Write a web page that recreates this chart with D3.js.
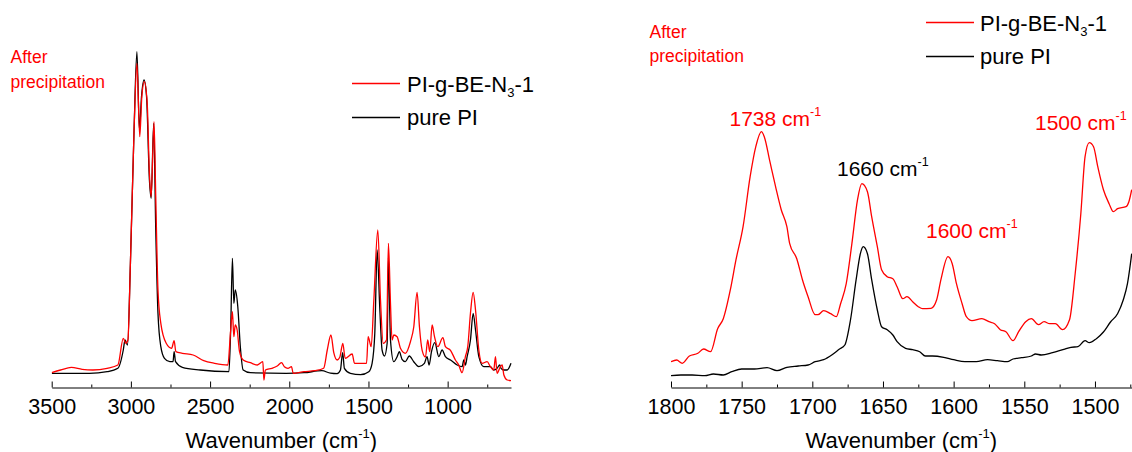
<!DOCTYPE html>
<html><head><meta charset="utf-8">
<script src="https://cdn.jsdelivr.net/npm/d3@7"></script>
<style>
html,body{margin:0;padding:0;background:#fff;}
svg{display:block;font-family:"Liberation Sans",Arial,Helvetica,sans-serif;}
</style></head>
<body>
<svg id="chart" width="1132" height="452"></svg>
<script>
// ---------- DATA (wavenumber in cm-1, intensity in arbitrary units) ----------
const leftRedWn = [3500,3444,3376,3308,3240,3150,3082,3048,3032,3019,3003,2980,2962,2944,2931,2915,2897,2883,2872,2854,2843,2829,2811,2777,2743,2727,2716,2675,2607,2540,2472,2388,2370,2359,2350,2341,2329,2314,2291,2246,2201,2167,2160,2151,2110,2076,2049,2031,2008,1986,1975,1907,1839,1783,1760,1737,1719,1698,1681,1662,1647,1603,1588,1550,1512,1502,1483,1466,1441,1424,1407,1386,1374,1361,1351,1340,1319,1298,1267,1235,1214,1193,1178,1161,1140,1126,1113,1098,1083,1062,1030,1014,982,951,930,909,888,873,856,839,824,803,782,751,730,709,698,688,667,656,645,624,600];
const leftRedVal = [15,17.7,20.4,18.4,17.7,19.4,22.7,49.4,44.4,47.7,124.4,257.7,324.4,251,291,306,284.4,214.4,191,266,191,97.7,64.4,44.4,39.4,47,36,34.4,32.7,27,24.4,22.7,57.7,76,51,62.7,57.7,36,27.7,25,22.7,26,7.7,17.7,19.4,21.7,25,21,19.4,21,14.4,16,17,19.4,37.7,52.7,35,27.7,30.4,44.4,29.4,33.7,24.4,24.4,24.4,51,41,87.7,157.7,87.7,44.4,47.7,144.4,84.4,47.7,52.7,51,39.4,34.4,46,60.7,95.4,60.7,37.4,30.7,47.7,36,62.7,51,41,50,41,37.4,27.7,22.7,15,31,41,74.4,95.4,77.7,37.4,24.4,26,21,17.7,31,14.4,21,22.7,12.7,7.7,7];

const leftBlackWn = [3500,3376,3263,3150,3082,3048,3037,3021,3003,2980,2962,2946,2933,2917,2901,2883,2872,2856,2843,2829,2811,2788,2754,2734,2727,2718,2675,2562,2381,2370,2359,2350,2341,2325,2309,2291,2246,2020,1907,1794,1740,1698,1677,1663,1652,1614,1550,1498,1477,1460,1445,1428,1414,1399,1382,1374,1361,1340,1319,1305,1288,1267,1242,1214,1182,1147,1130,1117,1102,1081,1056,1035,1014,982,940,909,898,888,877,856,839,824,803,772,730,709,688,671,663,645,624,600];
const leftBlackVal = [14.4,14.4,14.4,16,19.4,37.7,47.7,42.7,124.4,257.7,336,257.7,291,307.7,291,207.7,189.4,264.4,157.7,74.4,41,29.4,26,26,36,26,20.4,17.7,16,57.7,129.4,84.4,97.7,81,41,17.7,15,14.4,15,17,14.5,14,17.7,35,19.4,14.4,13,16,24.4,54.4,137.7,77.7,37.7,31.7,44.4,130,47.7,26,31,36,28.4,26,31.7,26,21,24.4,31,22.7,36,45,31,37.7,31,27.7,22.7,21,27.7,22.7,31,47.7,74.4,57.7,31,21,21,17.7,19.4,22.7,19.4,17.7,17.7,24.4];

const rightRedWn = [1800,1796,1792,1787,1781,1777,1772,1767,1763,1758,1754,1749,1744,1740,1736,1734,1730,1726,1722,1718,1716,1711,1707,1703,1698,1696,1692,1687,1683,1680,1676,1672,1668,1665,1661,1658,1654,1651,1647,1643,1640,1636,1633,1629,1625,1622,1616,1612,1609,1604,1601,1598,1594,1591,1587,1580,1575,1571,1567,1563,1558,1554,1549,1545,1540,1536,1532,1528,1523,1518,1514,1510,1507,1504,1501,1498,1494,1490,1487,1484,1478,1476,1474];
const rightRedVal = [26,27.7,24.4,31.7,34.4,38.7,36,59,69,98,128,161,211,241,256,251,226,201,178,161,144,129,108,91,73,73,77,74,71,84,104,144,188,204,196,171,141,118,111,109,101,89,91,86,81,79,79.4,88,108,131,124,104,84,71,67,69,66,64,58,56,47,56,66,69,63,66,64,64,58,68,114,174,231,245,241,221,198,184,176,179,181,186,198];

const rightBlackWn = [1800,1793,1785,1776,1770,1763,1757,1750,1741,1732,1725,1718,1710,1703,1698,1692,1686,1681,1677,1673,1669,1666,1664,1661,1658,1654,1651,1647,1643,1640,1634,1629,1624,1620,1615,1607,1600,1592,1584,1576,1569,1562,1558,1552,1545,1542,1538,1530,1522,1517,1512,1507,1504,1499,1494,1489,1484,1480,1477,1474];
const rightBlackVal = [12,12.7,12.7,12,13.7,12.7,16,18.7,18.7,20,17,20.4,21.7,22.7,26,28,33,38.4,42.7,67.7,108,134,141,134,108,77.7,61,58,52.7,46,39.4,38,36,31.7,31.7,30.4,28,26,26,28,27,26,28.7,30,31.7,33.7,32.7,35,38.4,40.4,41,47,45,49,55.7,65.7,74,87.7,104,134];

const leftTicks = [3500,3000,2500,2000,1500,1000];
const leftMinor = [3250,2750,2250,1750,1250,750];
const rightTicks = [1800,1750,1700,1650,1600,1550,1500];
const rightMinor = [1775,1725,1675,1625,1575,1525,1475];

const seriesNames = ["PI-g-BE-N", "pure PI"];
const peakLabels = [
  {wn:1738, text:"1738 cm", color:"red"},
  {wn:1660, text:"1660 cm", color:"black"},
  {wn:1600, text:"1600 cm", color:"red"},
  {wn:1500, text:"1500 cm", color:"red"}
];

// ---------- DRAWING ----------
const svg = d3.select("#chart");
const RED = "#ff0000";
const axisY = 387.5;

function panel(opt){
  const x = d3.scaleLinear().domain(opt.domain).range(opt.range);
  const y = d3.scaleLinear().domain([0,340]).range([387.7,47.7]);
  const g = svg.append("g");
  const clipId = "clip"+opt.id;
  svg.append("clipPath").attr("id",clipId).append("rect")
    .attr("x",opt.range[0]).attr("y",0).attr("width",opt.range[1]-opt.range[0]+1).attr("height",H);

  // minor ticks
  g.append("g").attr("transform",`translate(0,${axisY})`)
    .call(d3.axisBottom(x).tickValues(opt.minor).tickSize(-3).tickSizeOuter(0).tickFormat(""))
    .call(s=>{s.select(".domain").remove(); s.selectAll("line").attr("stroke","#000");});
  // major axis
  const ax = g.append("g").attr("transform",`translate(0,${axisY})`)
    .call(d3.axisBottom(x).tickValues(opt.ticks).tickSize(-6).tickSizeOuter(0).tickFormat(d3.format("d")));
  ax.select(".domain").attr("stroke","#000").attr("stroke-width",1);
  ax.selectAll("line").attr("stroke","#000");
  ax.selectAll("text").attr("y",26).attr("dy",null).attr("fill","#000")
    .attr("font-size","21.5px").attr("font-family","Liberation Sans, Arial, sans-serif");

  // axis title
  const t = g.append("text").attr("x",(opt.range[0]+opt.range[1])/2).attr("y",448)
    .attr("text-anchor","middle").attr("font-size","22px").attr("fill","#000");
  t.append("tspan").text("Wavenumber (cm");
  t.append("tspan").attr("font-size","13px").attr("dy",-10).text("-1");
  t.append("tspan").attr("dy",10).text(")");

  const line = d3.line().x(d=>x(d[0])).y(d=>y(d[1])).curve(d3.curveMonotoneX);
  const redPts = opt.redWn.map((w,i)=>[w,opt.redVal[i]]);
  const blackPts = opt.blackWn.map((w,i)=>[w,opt.blackVal[i]]);
  const lg = svg.append("g").attr("clip-path",`url(#${clipId})`);
  if(opt.redFirst){
    lg.append("path").attr("d",line(blackPts)).attr("fill","none").attr("stroke","#000").attr("stroke-width",1.3);
    lg.append("path").attr("d",line(redPts)).attr("fill","none").attr("stroke",RED).attr("stroke-width",1.3);
  } else {
    lg.append("path").attr("d",line(redPts)).attr("fill","none").attr("stroke",RED).attr("stroke-width",1.3);
    lg.append("path").attr("d",line(blackPts)).attr("fill","none").attr("stroke","#000").attr("stroke-width",1.3);
  }

  // "After precipitation"
  const ap = svg.append("text").attr("fill",RED).attr("font-size","17.5px");
  ap.append("tspan").attr("x",opt.after[0]).attr("y",opt.after[1]).text("After");
  ap.append("tspan").attr("x",opt.after[0]).attr("y",opt.after[1]+24.5).text("precipitation");

  // legend
  const L = opt.legend;
  svg.append("line").attr("x1",L.x1).attr("x2",L.x2).attr("y1",L.y1).attr("y2",L.y1).attr("stroke",RED).attr("stroke-width",1.3);
  svg.append("line").attr("x1",L.x1).attr("x2",L.x2).attr("y1",L.y2).attr("y2",L.y2).attr("stroke","#000").attr("stroke-width",1.3);
  const t1 = svg.append("text").attr("x",L.tx).attr("y",L.b1).attr("font-size","22px").attr("fill","#000");
  t1.append("tspan").text(seriesNames[0]);
  t1.append("tspan").attr("font-size","13px").attr("dy",5).text("3");
  t1.append("tspan").attr("dy",-5).text("-1");
  svg.append("text").attr("x",L.tx).attr("y",L.b2).attr("font-size","22px").attr("fill","#000").text(seriesNames[1]);
  return {x,y};
}

const H = 452;
panel({id:"L", domain:[3500,600], range:[51.7,511], ticks:leftTicks, minor:leftMinor,
  redWn:leftRedWn, redVal:leftRedVal, blackWn:leftBlackWn, blackVal:leftBlackVal, redFirst:true,
  after:[10.5,63], legend:{x1:352,x2:400,y1:83.5,y2:117.5,tx:407,b1:92,b2:125}});

const R = panel({id:"R", domain:[1800,1474], range:[671,1131.7], ticks:rightTicks, minor:rightMinor,
  redWn:rightRedWn, redVal:rightRedVal, blackWn:rightBlackWn, blackVal:rightBlackVal, redFirst:true,
  after:[649.5,37.5], legend:{x1:926,x2:974,y1:22.5,y2:56.5,tx:980,b1:31,b2:64}});

// peak annotations (right panel)
const labelPos = [[729.5,126],[837,175.5],[926,237.5],[1035,130]];
peakLabels.forEach((p,i)=>{
  const t = svg.append("text").attr("x",labelPos[i][0]).attr("y",labelPos[i][1])
    .attr("font-size","21px").attr("fill",p.color==="red"?RED:"#000");
  t.append("tspan").text(p.text);
  t.append("tspan").attr("font-size","12.5px").attr("dy",-10).text("-1");
});
</script>
</body></html>
